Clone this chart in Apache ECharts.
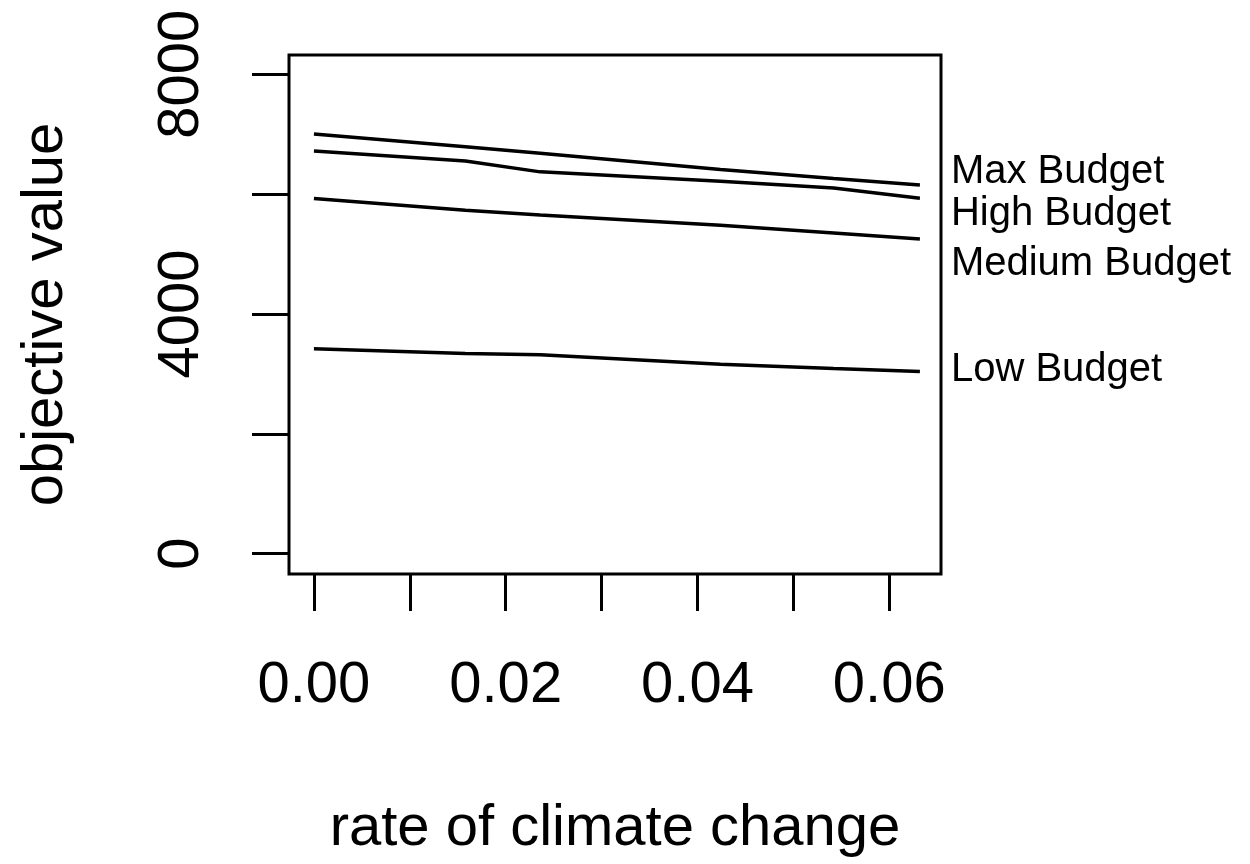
<!DOCTYPE html>
<html>
<head>
<meta charset="utf-8">
<script src="https://cdn.jsdelivr.net/npm/echarts@6/dist/echarts.min.js"></script>
<style>
html,body{margin:0;padding:0;background:#fff;}
#chart{width:1250px;height:864px;}
</style>
</head>
<body>
<div id="chart"></div>
<script>
// x: rate of climate change
const rates = [0, 0.0158, 0.0236, 0.0424, 0.0542, 0.0632];
const maxBudget = [7000, 6790, 6680, 6410, 6260, 6150];
const highBudget = [6720, 6550, 6370, 6215, 6100, 5930];
const mediumBudget = [5925, 5730, 5650, 5480, 5350, 5250];
const lowBudget = [3420, 3340, 3320, 3160, 3090, 3040];
const seriesNames = ['Max Budget', 'High Budget', 'Medium Budget', 'Low Budget'];
const xTicks = [0, 0.01, 0.02, 0.03, 0.04, 0.05, 0.06];
const xTickLabels = [0, 0.02, 0.04, 0.06];
const yTicks = [0, 2000, 4000, 6000, 8000];
const yTickLabels = [0, 4000, 8000];

const FONT = '"Liberation Sans", Arial, Helvetica, sans-serif';
const chart = echarts.init(document.getElementById('chart'), null, {renderer: 'canvas'});

const allValues = [maxBudget, highBudget, mediumBudget, lowBudget];
const labelOffsets = [[31, -13], [31, 16], [31, 25], [31, -1]];

const series = allValues.map((vals, i) => ({
  name: seriesNames[i],
  type: 'line',
  data: rates.map((r, j) => [r, vals[j]]),
  showSymbol: false,
  symbol: 'none',
  lineStyle: {color: '#000', width: 3.5},
  itemStyle: {color: '#000'},
  animation: false,
  endLabel: {
    show: true,
    formatter: seriesNames[i],
    color: '#000',
    fontFamily: FONT,
    fontSize: 40,
    distance: 0,
    align: 'left',
    verticalAlign: 'middle',
    offset: labelOffsets[i]
  }
}));

chart.setOption({
  backgroundColor: '#fff',
  animation: false,
  grid: {
    left: 289, right: 309, top: 55, bottom: 290,
    show: true, borderColor: '#000', borderWidth: 3, backgroundColor: 'transparent'
  },
  xAxis: {
    type: 'value',
    min: -0.0026,
    max: 0.0654,
    name: 'rate of climate change',
    nameLocation: 'middle',
    nameGap: 226,
    nameTextStyle: {color: '#000', fontFamily: FONT, fontSize: 58},
    axisLine: {show: false, onZero: false},
    splitLine: {show: false},
    axisTick: {show: true, inside: false, length: 37, customValues: xTicks,
               lineStyle: {color: '#000', width: 3}},
    axisLabel: {show: true, customValues: xTickLabels, margin: 83,
                color: '#000', fontFamily: FONT, fontSize: 58,
                formatter: v => Number(v).toFixed(2)}
  },
  yAxis: {
    type: 'value',
    min: -340,
    max: 8320,
    name: 'objective value',
    nameLocation: 'middle',
    nameGap: 214,
    nameRotate: 90,
    nameTextStyle: {color: '#000', fontFamily: FONT, fontSize: 58},
    axisLine: {show: false, onZero: false},
    splitLine: {show: false},
    axisTick: {show: true, inside: false, length: 37, customValues: yTicks,
               lineStyle: {color: '#000', width: 3}},
    axisLabel: {show: true, customValues: yTickLabels, margin: 78, rotate: 90,
                color: '#000', fontFamily: FONT, fontSize: 58,
                formatter: v => String(Math.round(v))}
  },
  series: series
});
</script>
</body>
</html>
